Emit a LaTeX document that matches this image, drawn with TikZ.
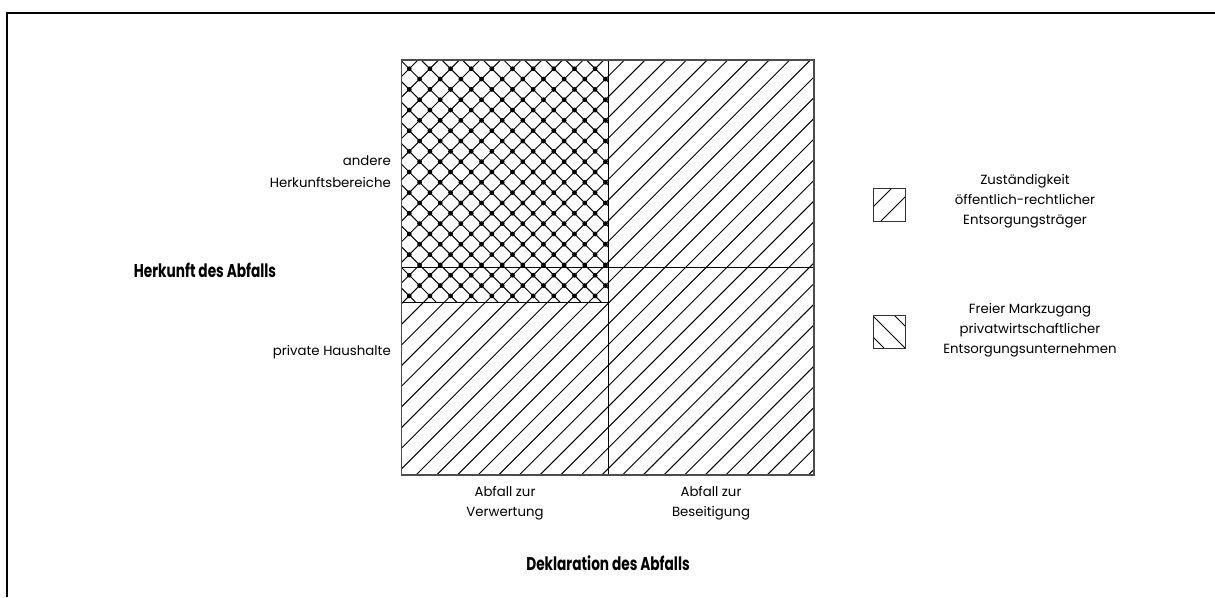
\documentclass[tikz,border=0pt]{standalone}
\usepackage{fontspec}
\setmainfont{Poppins}
\newfontfamily\headfont[FakeStretch=0.74]{Poppins}
\newcommand{\hs}{20.65}
\begin{document}
\begin{tikzpicture}[x=1pt,y=-1pt,
  label/.style={font=\fontsize{13.3}{20}\selectfont, inner sep=0pt},
  head/.style={font=\headfont\bfseries\fontsize{18.5}{20}\selectfont, inner sep=0pt},
  hatch/.style={line width=1pt, black},
  gridline/.style={line width=0.8pt, black},
  border/.style={line width=1.2pt, black!70},
  legendbox/.style={line width=1pt, black!80}]
\useasboundingbox (0,0) rectangle (1215,597);

% outer frame (top and left edges)
\draw[line width=2pt] (6.5,597) -- (6.5,12.5) -- (1215,12.5);

% single hatching "/" over the whole square
\begin{scope}
  \clip (401.5,60) rectangle (814,475);
  \foreach \k in {-22,...,20}{
    \pgfmathsetmacro{\c}{891+\k*\hs}
    \draw[hatch] (\c-475,475) -- (\c-60,60);
  }
\end{scope}

% cross hatching "\" in the upper left field, with dots at the crossings
\begin{scope}
  \clip (401.5,60) rectangle (608,302);
  \fill[white] (401.5,60) rectangle (608,302);
  \foreach \k in {-22,...,20}{
    \pgfmathsetmacro{\c}{891+\k*\hs}
    \draw[hatch] (\c-302,302) -- (\c-60,60);
  }
  \foreach \k in {-3,...,22}{
    \pgfmathsetmacro{\c}{134+\k*\hs}
    \draw[hatch] (\c+60,60) -- (\c+302,302);
  }
  \foreach \j in {-22,...,20}{
    \foreach \k in {-3,...,22}{
      \pgfmathsetmacro{\px}{(891+\j*\hs+134+\k*\hs)/2}
      \pgfmathsetmacro{\py}{(891+\j*\hs-134-\k*\hs)/2}
      \fill (\px,\py) circle (2.4);
    }
  }
\end{scope}

% grid of the matrix
\coordinate (tl) at (401.5,60);
\coordinate (br) at (814,475);
\coordinate (mt) at (608,60);
\coordinate (mb) at (608,475);
\coordinate (ml) at (401.5,267);
\coordinate (mr) at (814,267);
\coordinate (cl) at (401.5,302);
\coordinate (cr) at (608,302);
\draw[gridline] (mt) -- (mb);
\draw[gridline] (ml) -- (mr);
\draw[gridline] (cl) -- (cr);
\draw[border] (tl) rectangle (br);

% row labels
\node[label, anchor=east, align=right] (rowA) at (391,172)
  {andere\\[2pt]Herkunftsbereiche};
\node[label, anchor=east] (rowB) at (391,352) {private Haushalte};
\node[head] (rowhead) at (205,270) {Herkunft des Abfalls};

% column labels
\node[label, align=center] (colA) at (505,503) {Abfall zur\\Verwertung};
\node[label, align=center] (colB) at (711,503) {Abfall zur\\Beseitigung};
\node[head] (colhead) at (608,563) {Deklaration des Abfalls};

% legend
\begin{scope}
  \clip (873,188) rectangle (905,221);
  \foreach \c in {1080,1102}{
    \draw[hatch] (\c-221,221) -- (\c-188,188);
  }
\end{scope}
\draw[legendbox] (873,188) rectangle (905,221);
\node[label, align=center] (legA) at (1025,201)
  {Zuständigkeit\\öffentlich-rechtlicher\\Entsorgungsträger};

\begin{scope}
  \clip (873,315) rectangle (905,348);
  \foreach \c in {536,557,579}{
    \draw[hatch] (\c+315,315) -- (\c+348,348);
  }
\end{scope}
\draw[legendbox] (873,315) rectangle (905,348);
\node[label, align=center] (legB) at (1030,330)
  {Freier Markzugang\\privatwirtschaftlicher\\Entsorgungsunternehmen};
\end{tikzpicture}
\end{document}
